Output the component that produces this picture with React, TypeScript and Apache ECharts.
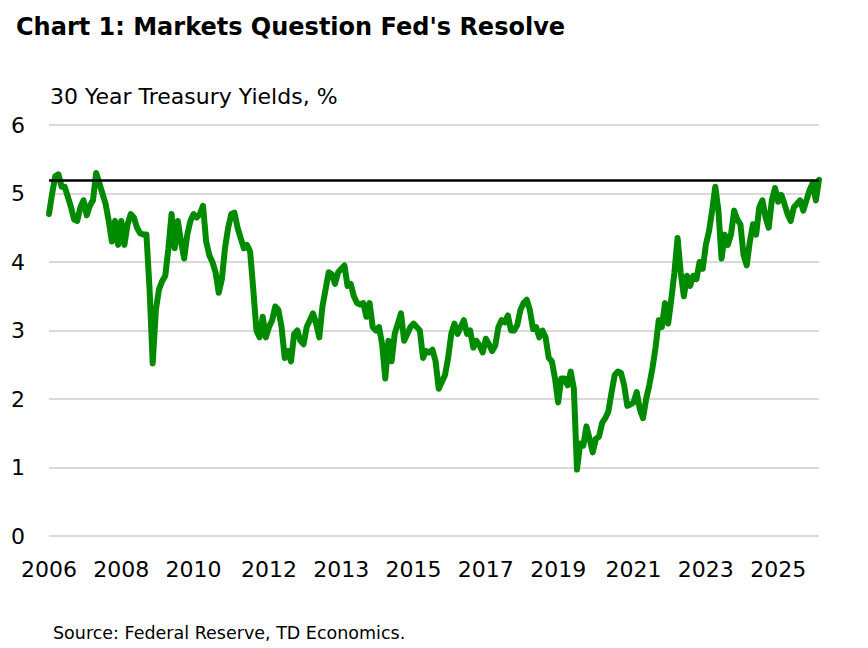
import React, { useEffect, useRef } from "react";
import * as echarts from "echarts";

const TITLE = "Chart 1: Markets Question Fed's Resolve";
const SUBTITLE = "30 Year Treasury Yields, %";
const SOURCE = "Source: Federal Reserve, TD Economics.";

// Monthly 30-year Treasury yields (%), starting Feb 2006
const START_YEAR = 2006;
const START_MONTH = 2;
const YIELDS = [
  4.7, 5.0, 5.25, 5.28, 5.1, 5.1, 4.95, 4.8, 4.62, 4.6,
  4.8, 4.9, 4.68, 4.82, 4.9, 5.3, 5.15, 5.0, 4.85, 4.6,
  4.3, 4.6, 4.25, 4.6, 4.25, 4.55, 4.7, 4.65, 4.5, 4.42,
  4.4, 4.4, 3.6, 2.52, 3.3, 3.6, 3.72, 3.8, 4.2, 4.7,
  4.2, 4.6, 4.3, 4.05, 4.4, 4.6, 4.7, 4.65, 4.7, 4.82,
  4.3, 4.1, 4.0, 3.85, 3.55, 3.75, 4.2, 4.5, 4.7, 4.72,
  4.5, 4.35, 4.2, 4.25, 4.15, 3.6, 3.0, 2.9, 3.2, 2.9,
  3.05, 3.15, 3.35, 3.3, 3.05, 2.6, 2.7, 2.55, 2.95, 3.0,
  2.85, 2.8, 3.05, 3.15, 3.25, 3.1, 2.9, 3.35, 3.6, 3.85,
  3.82, 3.68, 3.85, 3.9, 3.95, 3.65, 3.68, 3.5, 3.4, 3.38,
  3.4, 3.2, 3.4, 3.05, 3.0, 3.05, 2.8, 2.3, 2.85, 2.55,
  2.95, 3.1, 3.25, 2.85, 2.95, 3.05, 3.1, 3.05, 3.0, 2.6,
  2.7, 2.68, 2.72, 2.55, 2.15, 2.25, 2.35, 2.6, 2.95, 3.1,
  2.95, 3.05, 3.15, 2.95, 3.0, 2.75, 2.85, 2.78, 2.68, 2.88,
  2.8, 2.7, 2.78, 3.05, 3.15, 3.12, 3.22, 3.0, 3.0, 3.08,
  3.3, 3.4, 3.45, 3.3, 3.02, 3.05, 2.9, 3.0, 2.9, 2.6,
  2.55, 2.3, 1.95, 2.3, 2.3, 2.2, 2.4, 2.15, 0.97, 1.35,
  1.32, 1.6, 1.42, 1.22, 1.42, 1.45, 1.65, 1.72, 1.82, 2.1,
  2.35, 2.4, 2.38, 2.2, 1.9, 1.92, 1.95, 2.1, 1.85, 1.72,
  2.0, 2.2, 2.45, 2.75, 3.15, 3.05, 3.4, 3.1, 3.45, 3.85,
  4.35, 3.85, 3.5, 3.8, 3.65, 3.8, 3.75, 4.0, 3.9, 4.25,
  4.45, 4.75, 5.1, 4.75, 4.05, 4.4, 4.25, 4.4, 4.75, 4.62,
  4.55, 4.1, 3.95, 4.3, 4.55, 4.4, 4.8, 4.9, 4.65, 4.5,
  4.9, 5.08, 4.88, 4.98, 4.85, 4.7, 4.6, 4.8, 4.85, 4.9,
  4.75, 4.9, 5.05, 5.15, 4.9, 5.2,
];

const THRESHOLD = 5.2;

const TICK_LABELS = ["2006", "2008", "2010", "2012", "2013", "2015", "2017", "2019", "2021", "2023", "2025"];
const LABEL_STEP = 23.2; // months between shown x labels

const CATEGORIES = YIELDS.map((_, i) => {
  const t = START_MONTH - 1 + i;
  const y = START_YEAR + Math.floor(t / 12);
  const m = (t % 12) + 1;
  return `${y}-${String(m).padStart(2, "0")}`;
});
const LABEL_INDEX = TICK_LABELS.map((_, j) => Math.round(j * LABEL_STEP));

export default function App() {
  const ref = useRef<HTMLDivElement>(null);
  useEffect(() => {
    document.body.style.margin = "0";
    const chart = echarts.init(ref.current!, null, { renderer: "svg" });
    chart.setOption({
      animation: false,
      backgroundColor: "#ffffff",
      title: [
        {
          text: TITLE,
          left: 16,
          top: 15,
          padding: 0,
          textStyle: { fontFamily: "DejaVu Sans", fontWeight: "bold", fontSize: 24, color: "#000" },
        },
        {
          text: SUBTITLE,
          left: 50,
          top: 85,
          padding: 0,
          textStyle: { fontFamily: "DejaVu Sans", fontWeight: "normal", fontSize: 22, color: "#000" },
        },
        {
          text: SOURCE,
          left: 53,
          top: 624,
          padding: 0,
          textStyle: { fontFamily: "DejaVu Sans", fontWeight: "normal", fontSize: 17.5, color: "#000" },
        },
      ],
      grid: { left: 49, right: 49, top: 125, bottom: 112, containLabel: false },
      xAxis: {
        type: "category",
        data: CATEGORIES,
        boundaryGap: false,
        axisLine: { show: false },
        axisTick: { show: false },
        splitLine: { show: false },
        axisLabel: {
          interval: (i: number) => LABEL_INDEX.includes(i),
          formatter: (_v: string, i: number) => {
            const j = LABEL_INDEX.indexOf(i);
            return j >= 0 ? TICK_LABELS[j] : "";
          },
          fontFamily: "DejaVu Sans",
          fontSize: 22,
          color: "#000",
          margin: 22,
        },
      },
      yAxis: {
        type: "value",
        min: 0,
        max: 6,
        interval: 1,
        axisLine: { show: false },
        axisTick: { show: false },
        splitLine: { lineStyle: { color: "#d9d9d9", width: 2 } },
        axisLabel: { fontFamily: "DejaVu Sans", fontSize: 22, color: "#000", margin: 24 },
      },
      series: [
        {
          type: "line",
          data: [],
          z: 1,
          markLine: {
            silent: true,
            symbol: ["none", "none"],
            label: { show: false },
            lineStyle: { color: "#000", width: 2.5, type: "solid" },
            data: [{ yAxis: THRESHOLD }],
          },
        },
        {
          type: "line",
          data: YIELDS,
          z: 3,
          showSymbol: false,
          symbol: "none",
          lineStyle: { color: "#008a00", width: 6, cap: "round", join: "round" },
        },
      ],
    });
    return () => chart.dispose();
  }, []);
  return <div ref={ref} style={{ width: 868, height: 648 }} />;
}
